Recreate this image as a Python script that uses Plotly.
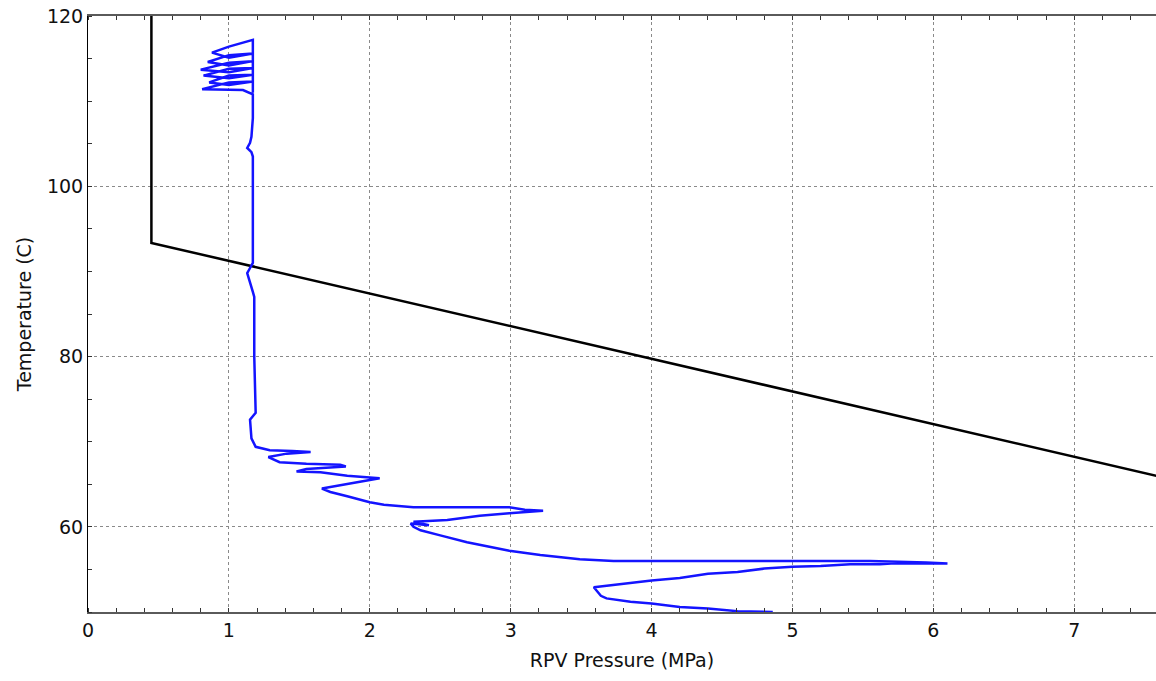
import plotly.graph_objects as go

# Pressure-temperature limit curve (MPa, C)
limit_p = [0.45, 0.45, 8.0]
limit_t = [120.0, 93.35, 64.4]

# Measured RPV pressure / temperature trajectory (MPa, C)
rpv_p = [
    4.86, 4.61, 4.40, 4.20, 4.00, 3.85, 3.68, 3.64, 3.59,
    3.73, 4.00, 4.20, 4.40, 4.61, 4.80, 5.00, 5.20, 5.41, 5.62, 5.70, 6.00, 6.10,
    5.95, 5.62, 5.55, 5.00, 4.40, 4.00, 3.73,
    3.49, 3.21, 2.99, 2.69, 2.50, 2.36, 2.31, 2.29, 2.42, 2.31,
    2.55, 2.78, 2.99, 3.15, 3.23,
    3.10, 2.99, 2.60, 2.31, 2.10, 2.00, 1.84, 1.72, 1.66,
    1.84, 2.07, 2.00, 1.84, 1.65, 1.48,
    1.55, 1.72, 1.83, 1.79, 1.55, 1.36, 1.28,
    1.41, 1.58, 1.45, 1.29, 1.19,
    1.16, 1.15, 1.19, 1.18, 1.18, 1.17, 1.15, 1.13, 1.15, 1.17,
    1.17, 1.17, 1.16, 1.13, 1.15, 1.16, 1.17, 1.17,
    1.10, 0.81,
    1.00, 1.17, 1.00, 0.86,
    1.00, 1.17, 1.00, 0.82,
    1.00, 1.17, 1.00, 0.80,
    1.00, 1.17, 1.00, 0.85,
    1.00, 1.17, 1.00, 0.88,
    1.00, 1.17,
    1.17,
]
rpv_t = [
    50.0, 50.1, 50.4, 50.6, 51.0, 51.2, 51.6, 51.9, 52.9,
    53.2, 53.7, 54.0, 54.5, 54.7, 55.1, 55.3, 55.4, 55.6, 55.6, 55.7, 55.7, 55.7,
    55.8, 55.9, 56.0, 56.0, 56.0, 56.0, 56.0,
    56.2, 56.7, 57.2, 58.2, 59.0, 59.6, 60.0, 60.4, 60.2, 60.6,
    60.8, 61.3, 61.6, 61.8, 61.9,
    62.0, 62.3, 62.3, 62.3, 62.6, 62.9, 63.6, 64.1, 64.5,
    65.0, 65.7, 65.8, 66.0, 66.4, 66.5,
    66.8, 67.0, 67.1, 67.3, 67.4, 67.6, 68.2,
    68.6, 68.8, 68.9, 69.0, 69.4,
    70.4, 72.6, 73.4, 80.0, 87.0, 87.6, 88.6, 89.8, 90.4, 91.0,
    97.0, 103.5, 104.0, 104.5, 105.1, 105.8, 108.0, 110.8,
    111.3, 111.4,
    112.2, 112.3, 111.9, 112.2,
    113.0, 113.1, 112.7, 113.0,
    113.8, 113.9, 113.4, 113.7,
    114.5, 114.7, 114.2, 114.6,
    115.4, 115.6, 115.1, 115.7,
    116.4, 117.2,
    111.0,
]

x_ticks = [0, 1, 2, 3, 4, 5, 6, 7]
y_ticks = [60, 80, 100, 120]

fig = go.Figure()
fig.add_trace(go.Scatter(
    x=limit_p, y=limit_t, mode="lines",
    line=dict(color="#000000", width=2.5),
    showlegend=False, hoverinfo="skip",
))
fig.add_trace(go.Scatter(
    x=rpv_p, y=rpv_t, mode="lines",
    line=dict(color="#1414ff", width=2.5),
    showlegend=False,
))

font = dict(family="DejaVu Sans", size=19, color="#111111")

fig.update_layout(
    width=1156, height=681,
    margin=dict(l=88, r=0, t=16, b=69),
    paper_bgcolor="white", plot_bgcolor="white",
    font=font,
    xaxis=dict(
        range=[0, 7.58], tickvals=x_ticks, ticktext=[str(v) for v in x_ticks],
        showgrid=True, gridcolor="#8a8a8a", griddash="dot", gridwidth=1,
        showline=True, linecolor="#5a5a5a", linewidth=2, mirror="ticks",
        ticks="", zeroline=False,
        minor=dict(dtick=0.2, tick0=0, ticks="inside", ticklen=4,
                   tickcolor="#333333", showgrid=False),
        title=dict(text="RPV Pressure (MPa)", standoff=14, font=font),
        tickfont=font,
    ),
    yaxis=dict(
        range=[50, 120], tickvals=y_ticks, ticktext=[str(v) for v in y_ticks],
        showgrid=True, gridcolor="#8a8a8a", griddash="dot", gridwidth=1,
        showline=True, linecolor="#000000", linewidth=1, mirror=False,
        ticks="", zeroline=False,
        minor=dict(dtick=5, tick0=0, ticks="inside", ticklen=4,
                   tickcolor="#333333", showgrid=False),
        title=dict(text="Temperature (C)", standoff=10, font=font),
        tickfont=font,
    ),
)

fig.write_html("out.html")
